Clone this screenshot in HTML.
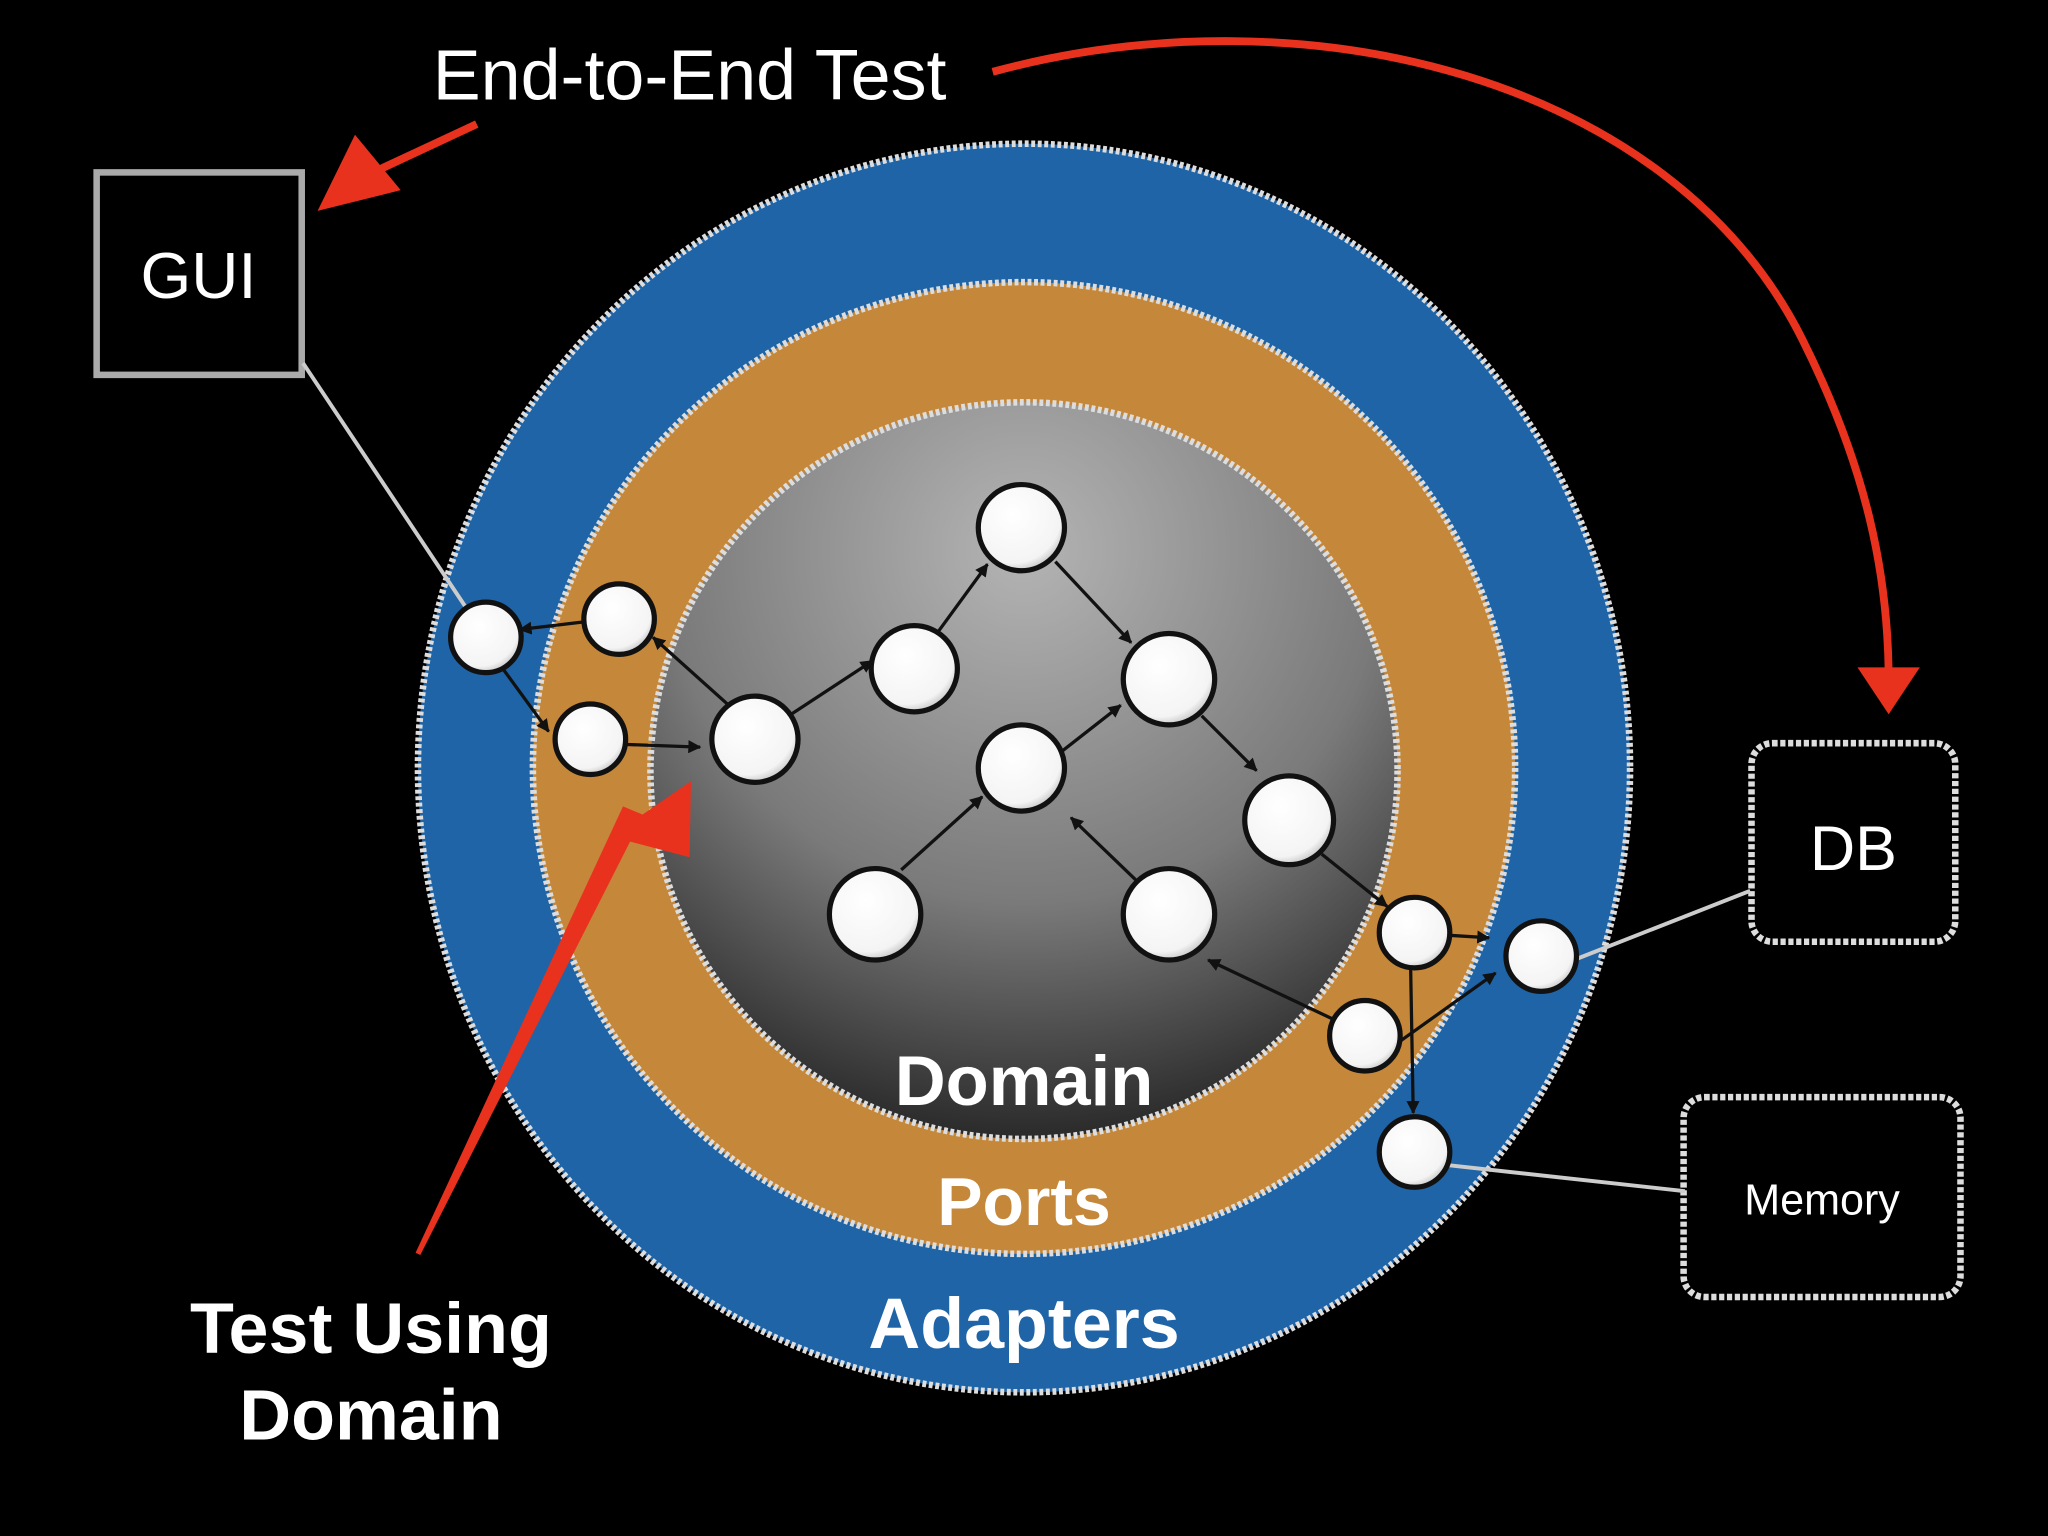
<!DOCTYPE html>
<html><head><meta charset="utf-8"><style>html,body{margin:0;padding:0;background:#000}svg{display:block}</style></head><body>
<svg width="2048" height="1536" viewBox="0 0 1568 1176" xmlns="http://www.w3.org/2000/svg" font-family="Liberation Sans, sans-serif">
<defs>
<radialGradient id="g" cx="50%" cy="20%" r="80%">
<stop offset="0" stop-color="#b4b4b4"/><stop offset="0.6" stop-color="#7a7a7a"/><stop offset="1" stop-color="#2a2a2a"/>
</radialGradient>
<radialGradient id="n" cx="40%" cy="35%" r="70%"><stop offset="0" stop-color="#fff"/><stop offset="0.8" stop-color="#f4f4f4"/><stop offset="1" stop-color="#bbb"/></radialGradient>
<marker id="a" markerWidth="10" markerHeight="10" refX="9" refY="5" orient="auto" markerUnits="userSpaceOnUse"><path d="M0,0 L10,5 L0,10 z" fill="#111"/></marker>
</defs>
<rect width="1568" height="1176" fill="#000"/>
<ellipse cx="784" cy="588" rx="464" ry="478" fill="#1f64a6" stroke="#ddd" stroke-width="5" stroke-dasharray="3 2"/>
<ellipse cx="784" cy="588" rx="376" ry="372" fill="#c5873a" stroke="#ddd" stroke-width="5" stroke-dasharray="3 2"/>
<ellipse cx="784" cy="590" rx="286" ry="282" fill="url(#g)" stroke="#ddd" stroke-width="5" stroke-dasharray="3 2"/>
<rect x="74" y="132" width="157" height="155" fill="#000" stroke="#aaa" stroke-width="5"/>
<text x="152" y="228" fill="#fff" font-size="50" text-anchor="middle">GUI</text>
<rect x="1341" y="569" width="156" height="152" rx="16" fill="#000" stroke="#ddd" stroke-width="5" stroke-dasharray="4 2"/>
<text x="1419" y="666" fill="#fff" font-size="48" text-anchor="middle">DB</text>
<rect x="1289" y="840" width="212" height="153" rx="16" fill="#000" stroke="#ddd" stroke-width="5" stroke-dasharray="4 2"/>
<text x="1395" y="930" fill="#fff" font-size="33" text-anchor="middle">Memory</text>
<g stroke="#ccc" stroke-width="3">
<line x1="232" y1="278" x2="360" y2="470"/>
<line x1="1340" y1="682" x2="1205" y2="735"/>
<line x1="1290" y1="912" x2="1108" y2="892"/>
</g>
<g stroke="#111" stroke-width="2.5" fill="none" marker-end="url(#a)">
<line x1="448" y1="476" x2="398" y2="482"/>
<line x1="385" y1="512" x2="420" y2="560"/>
<line x1="480" y1="570" x2="536" y2="572"/>
<line x1="558" y1="540" x2="500" y2="488"/>
<line x1="604" y1="548" x2="668" y2="506"/>
<line x1="718" y1="484" x2="756" y2="432"/>
<line x1="808" y1="430" x2="866" y2="492"/>
<line x1="812" y1="576" x2="858" y2="540"/>
<line x1="920" y1="548" x2="962" y2="590"/>
<line x1="1012" y1="654" x2="1062" y2="694"/>
<line x1="690" y1="666" x2="752" y2="610"/>
<line x1="872" y1="676" x2="820" y2="626"/>
<line x1="1020" y1="780" x2="925" y2="735"/>
<line x1="1108" y1="716" x2="1140" y2="718"/>
<line x1="1068" y1="800" x2="1145" y2="745"/>
<line x1="1080" y1="740" x2="1082" y2="852"/>
</g>
<g fill="url(#n)" stroke="#111" stroke-width="4">
<circle cx="372" cy="488" r="27"/><circle cx="474" cy="474" r="27"/><circle cx="452" cy="566" r="27"/>
<circle cx="578" cy="566" r="33"/><circle cx="700" cy="512" r="33"/><circle cx="782" cy="404" r="33"/>
<circle cx="895" cy="520" r="35"/><circle cx="782" cy="588" r="33"/><circle cx="987" cy="628" r="34"/>
<circle cx="670" cy="700" r="35"/><circle cx="895" cy="700" r="35"/><circle cx="1083" cy="714" r="27"/>
<circle cx="1180" cy="732" r="27"/><circle cx="1045" cy="793" r="27"/><circle cx="1083" cy="882" r="27"/>
</g>
<g fill="#e8321e" stroke="#e8321e">
<path d="M760,55 C1000,-10 1280,60 1380,260 C1430,360 1445,440 1446,515" fill="none" stroke-width="6"/>
<path d="M1424,512 L1468,512 L1446,545 z" stroke-width="2"/>
<path d="M365,95 L290,130" fill="none" stroke-width="6"/>
<path d="M245,160 L272,105 L305,145 z" stroke-width="2"/>
<path d="M320,960 L490,625 L478,620 z" stroke-width="4"/>
<path d="M528,600 L470,640 L527,655 z" stroke-width="2"/>
</g>
<text x="528" y="76" fill="#fff" font-size="55" text-anchor="middle">End-to-End Test</text>
<g fill="#fff" font-weight="bold" text-anchor="middle">
<text x="784" y="846" font-size="54">Domain</text>
<text x="784" y="938" font-size="52">Ports</text>
<text x="784" y="1032" font-size="55">Adapters</text>
<text x="284" y="1036" font-size="55">Test Using</text>
<text x="284" y="1102" font-size="55">Domain</text>
</g>
</svg>
</body></html>
